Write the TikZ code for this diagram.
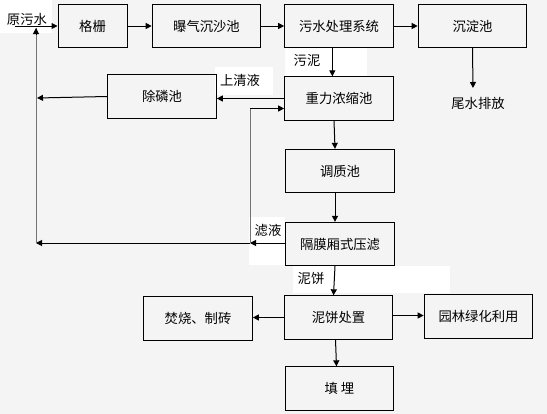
\documentclass[tikz,border=0pt]{standalone}
\usepackage{fontspec}
\newfontfamily\cjk{Noto Sans CJK SC}
\usetikzlibrary{arrows.meta}
\definecolor{bgray}{RGB}{244,244,244}
\begin{document}
\begin{tikzpicture}[x=0.75pt,y=-0.75pt,
    every node/.style={font=\cjk\fontsize{10}{12}\selectfont},
    box/.style={draw=black,line width=0.75pt,minimum width=81.5pt,minimum height=32.5pt,inner sep=0pt},
    arr/.style={line width=0.75pt,-{Triangle[length=4.5pt,width=4.5pt]}},
    back/.style={line width=0.75pt,draw=black!55}]
    \fill[bgray] (0,0) rectangle (547,414);
    \useasboundingbox (0,0) rectangle (547,414);
    % white patches behind the labels
    \fill[white] (0,0) rectangle (52,33);
    \fill[white] (285,48) rectangle (367,77);
    \fill[white] (215,67) rectangle (273,95);
    \fill[white] (249,217) rectangle (285,265);
    \fill[white] (293,266) rectangle (450,293);
    % boxes
    \node[box,minimum width=51.75pt] (gs) at (92.5,26) {格栅};
    \node[box] (bq) at (206.5,26) {曝气沉沙池};
    \node[box] (ws) at (339,26) {污水处理系统};
    \node[box] (cd) at (472.5,26) {沉淀池};
    \node[box] (zl) at (339,98.5) {重力浓缩池};
    \node[box] (cl) at (162,96.5) {除磷池};
    \node[box] (tz) at (340,171) {调质池};
    \node[box] (gm) at (340,244) {隔膜厢式压滤};
    \node[box] (nb) at (338.5,317.5) {泥饼处置};
    \node[box] (fs) at (198,318.5) {焚烧、制砖};
    \node[box] (yl) at (478.5,316.5) {园林绿化利用};
    \node[box] (tm) at (339.5,388.5) {填\ 埋};
    % labels
    \node (ysw) at (27,19) {原污水};
    \node (wspf) at (478,103) {尾水排放};
    \node (wn) at (307,61) {污泥};
    \node (sqy) at (240,80) {上清液};
    \node (ly) at (268,230) {滤液};
    \node (nbl) at (311,278) {泥饼};
    % free ends
    \coordinate (in) at (15,26);
    \coordinate (out) at (473,88);
    \coordinate (clout) at (37,98);
    \coordinate (fl) at (250,243);
    \coordinate (lb) at (36,243);
    \coordinate (lt) at (36,28);
    % main line
    \draw[arr] (in) -- (gs.west);
    \draw[arr] (gs) -- (bq);
    \draw[arr] (bq) -- (ws);
    \draw[arr] (ws) -- (cd);
    \draw[arr] (cd.south) -- (out);
    % sludge line
    \draw[arr] ([xshift=-5pt]ws.south) -- ([xshift=-5pt]zl.north);
    \draw[arr] (zl.west) -- (zl.west -| cl.east);
    \draw[arr] (cl.west) -- (clout);
    \draw[arr] ([xshift=-3.75pt]zl.south) -- ([xshift=-3.75pt]tz.north);
    \draw[arr] ([xshift=-3.75pt]tz.south) -- ([xshift=-3.75pt]gm.north);
    \draw[arr] (gm.west |- fl) -- (fl);
    \draw[arr] (fl) -- (lb);
    \draw[back] (fl) -- ++(0,-135);
    \draw[arr] ([yshift=-7.5pt]zl.west -| fl) -- ([yshift=-7.5pt]zl.west);
    \draw[back] (lb) -- (lt);
    \draw[arr] ([yshift=-5pt]lt) -- (lt);
    \draw[arr] ([xshift=-3.75pt]gm.south) -- ([xshift=-3.75pt]nb.north);
    \draw[arr] ([xshift=-2.25pt]nb.south) -- ([xshift=-2.25pt]tm.north);
    \draw[arr] (nb.west) -- (nb.west -| fs.east);
    \draw[arr] ([yshift=1.5pt]nb.east) -- ([yshift=1.5pt]nb.east -| yl.west);
\end{tikzpicture}
\end{document}
